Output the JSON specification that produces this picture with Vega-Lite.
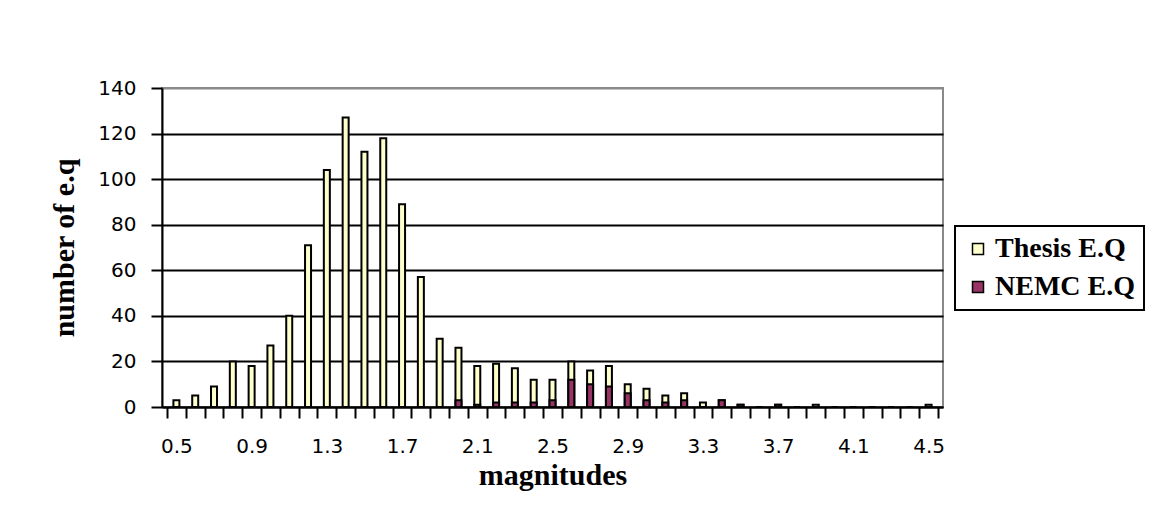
{
  "$schema": "https://vega.github.io/schema/vega-lite/v6.json",
  "width": 781,
  "height": 319,
  "autosize": {"type": "none"},
  "padding": {"left": 162, "top": 88, "right": 215, "bottom": 114},
  "background": "white",
  "config": {
    "view": {"stroke": "#8a8a8a", "strokeWidth": 2},
    "axis": {
      "domainColor": "black",
      "domainWidth": 2,
      "tickColor": "black",
      "tickWidth": 2,
      "labelFont": "DejaVu Sans",
      "labelFontSize": 20,
      "labelColor": "black",
      "titleFont": "Liberation Serif",
      "titleFontWeight": "bold",
      "titleFontSize": 30,
      "titleColor": "black"
    },
    "legend": {
      "orient": "none",
      "legendX": 793,
      "legendY": 138,
      "symbolType": "square",
      "symbolSize": 121,
      "symbolStrokeColor": "black",
      "symbolStrokeWidth": 1.5,
      "labelFont": "Liberation Serif",
      "labelFontWeight": "bold",
      "labelFontSize": 28,
      "labelColor": "black",
      "labelLimit": 300,
      "labelOffset": 3,
      "strokeColor": "black",
      "strokeWidth": 2,
      "padding": 9,
      "rowPadding": 10,
      "fillColor": "white"
    }
  },
  "data": {
    "values": [
      {"magnitude": 0.5, "thesis": 3, "nemc": 0},
      {"magnitude": 0.6, "thesis": 5, "nemc": 0},
      {"magnitude": 0.7, "thesis": 9, "nemc": 0},
      {"magnitude": 0.8, "thesis": 20, "nemc": 0},
      {"magnitude": 0.9, "thesis": 18, "nemc": 0},
      {"magnitude": 1.0, "thesis": 27, "nemc": 0},
      {"magnitude": 1.1, "thesis": 40, "nemc": 0},
      {"magnitude": 1.2, "thesis": 71, "nemc": 0},
      {"magnitude": 1.3, "thesis": 104, "nemc": 0},
      {"magnitude": 1.4, "thesis": 127, "nemc": 0},
      {"magnitude": 1.5, "thesis": 112, "nemc": 0},
      {"magnitude": 1.6, "thesis": 118, "nemc": 0},
      {"magnitude": 1.7, "thesis": 89, "nemc": 0},
      {"magnitude": 1.8, "thesis": 57, "nemc": 0},
      {"magnitude": 1.9, "thesis": 30, "nemc": 0},
      {"magnitude": 2.0, "thesis": 26, "nemc": 3},
      {"magnitude": 2.1, "thesis": 18, "nemc": 1},
      {"magnitude": 2.2, "thesis": 19, "nemc": 2},
      {"magnitude": 2.3, "thesis": 17, "nemc": 2},
      {"magnitude": 2.4, "thesis": 12, "nemc": 2},
      {"magnitude": 2.5, "thesis": 12, "nemc": 3},
      {"magnitude": 2.6, "thesis": 20, "nemc": 12},
      {"magnitude": 2.7, "thesis": 16, "nemc": 10},
      {"magnitude": 2.8, "thesis": 18, "nemc": 9},
      {"magnitude": 2.9, "thesis": 10, "nemc": 6},
      {"magnitude": 3.0, "thesis": 8, "nemc": 3},
      {"magnitude": 3.1, "thesis": 5, "nemc": 2},
      {"magnitude": 3.2, "thesis": 6, "nemc": 3},
      {"magnitude": 3.3, "thesis": 2, "nemc": 0},
      {"magnitude": 3.4, "thesis": 3, "nemc": 3},
      {"magnitude": 3.5, "thesis": 1, "nemc": 1},
      {"magnitude": 3.6, "thesis": 0, "nemc": 0},
      {"magnitude": 3.7, "thesis": 1, "nemc": 1},
      {"magnitude": 3.8, "thesis": 0, "nemc": 0},
      {"magnitude": 3.9, "thesis": 1, "nemc": 0},
      {"magnitude": 4.0, "thesis": 0, "nemc": 0},
      {"magnitude": 4.1, "thesis": 0, "nemc": 0},
      {"magnitude": 4.2, "thesis": 0, "nemc": 0},
      {"magnitude": 4.3, "thesis": 0, "nemc": 0},
      {"magnitude": 4.4, "thesis": 0, "nemc": 0},
      {"magnitude": 4.5, "thesis": 1, "nemc": 0}
    ]
  },
  "layer": [
    {
      "mark": {"type": "bar", "width": 6, "stroke": "black", "strokeWidth": 2},
      "encoding": {
        "x": {
          "field": "magnitude",
          "type": "quantitative",
          "scale": {"domain": [0.45, 4.55], "nice": false, "zero": false},
          "axis": {
            "orient": "bottom",
            "values": [0.45, 0.55, 0.65, 0.75, 0.85, 0.95, 1.05, 1.15, 1.25, 1.35, 1.45, 1.55, 1.65, 1.75, 1.85, 1.95, 2.05, 2.15, 2.25, 2.35, 2.45, 2.55, 2.65, 2.75, 2.85, 2.95, 3.05, 3.15, 3.25, 3.35, 3.45, 3.55, 3.65, 3.75, 3.85, 3.95, 4.05, 4.15, 4.25, 4.35, 4.45, 4.55],
            "labels": false,
            "tickSize": 11,
            "grid": false,
            "title": null
          }
        },
        "y": {
          "field": "thesis",
          "type": "quantitative",
          "scale": {"domain": [0, 140], "nice": false},
          "axis": {
            "orient": "left",
            "values": [0, 20, 40, 60, 80, 100, 120, 140],
            "tickSize": 11,
            "labelPadding": 15,
            "grid": true,
            "gridWidth": 2,
            "gridColor": {"condition": {"test": "datum.value === 140", "value": "#8a8a8a"}, "value": "black"},
            "title": "number of e.q",
            "titlePadding": 18
          }
        },
        "color": {
          "datum": "Thesis E.Q",
          "scale": {"domain": ["Thesis E.Q", "NEMC E.Q"], "range": ["#FFFFCC", "#993366"]},
          "legend": {"title": null}
        }
      }
    },
    {
      "mark": {"type": "bar", "width": 6, "stroke": "black", "strokeWidth": 2},
      "encoding": {
        "x": {
          "field": "magnitude",
          "type": "quantitative",
          "axis": {
            "orient": "bottom",
            "values": [0.5, 0.9, 1.3, 1.7, 2.1, 2.5, 2.9, 3.3, 3.7, 4.1, 4.5],
            "format": ".1f",
            "ticks": false,
            "tickSize": 0,
            "domain": false,
            "grid": false,
            "labelPadding": 29,
            "title": "magnitudes",
            "titlePadding": 4
          }
        },
        "y": {"field": "nemc", "type": "quantitative", "axis": null},
        "color": {"datum": "NEMC E.Q"}
      }
    }
  ],
  "resolve": {"axis": {"x": "independent", "y": "independent"}}
}
